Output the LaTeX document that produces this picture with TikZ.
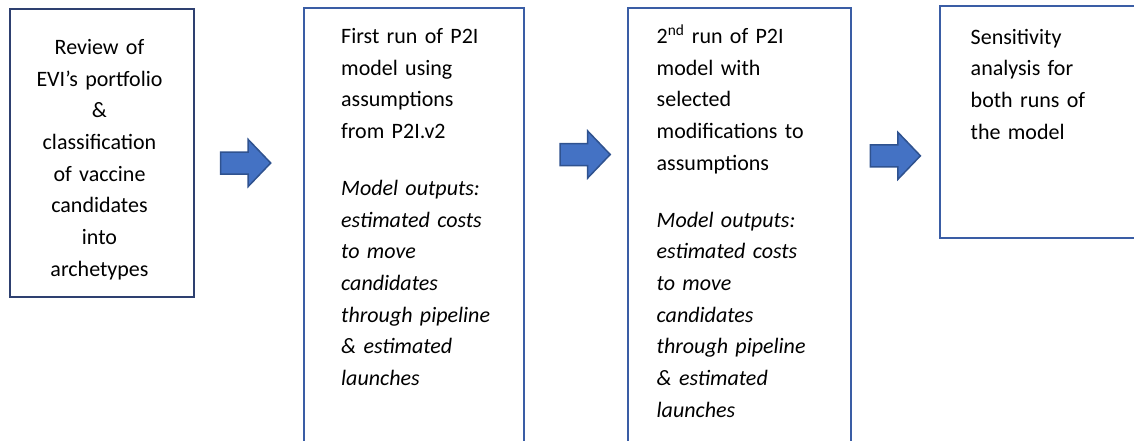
\documentclass[tikz,border=0pt]{standalone}
\usepackage{fontspec}
\setmainfont{Carlito}
\usetikzlibrary{positioning}
\definecolor{boxline}{HTML}{3A5DA5}
\definecolor{boxdark}{HTML}{2E4070}
\definecolor{arrowfill}{HTML}{4472C4}
\definecolor{arrowline}{HTML}{2F528F}
\tikzset{
  stage/.style={draw=boxline, line width=2pt, inner sep=0pt, outer sep=0pt, anchor=north west},
  stagetext/.style={inner sep=0pt, text width=185pt, align=left,
    font=\fontsize{22}{31.7}\selectfont},
  flowarrow/.style={fill=arrowfill, draw=arrowline, line width=1.5pt, line join=miter}
}

\begin{document}
\begin{tikzpicture}[x=1pt,y=-1pt]
    \useasboundingbox (0,0) rectangle (1134,440);

    % boxes
    \node[stage, draw=boxdark, minimum width=184pt, minimum height=288pt] (review) at (10,9) {};
    \node[stage, minimum width=220pt, minimum height=460pt] (run1) at (304,8) {};
    \node[stage, minimum width=223pt, minimum height=460pt] (run2) at (628,7.5) {};
    \node[stage, minimum width=210pt, minimum height=232pt] (sens) at (940,6) {};

    % texts
    \node[stagetext, align=center, anchor=base] (reviewtxt) at (99.5,54.3)
        {Review of\\EVI’s portfolio\\\&\\classification\\of vaccine\\candidates\\into\\archetypes};
    \node[stagetext, anchor=base west] (run1txt) at (341,43.3)
        {First run of P2I\\model using\\assumptions\\from P2I.v2\\[25.3pt]
         \itshape Model outputs:\\estimated costs\\to move\\candidates\\through pipeline\\\& estimated\\launches};
    \node[stagetext, anchor=base west] (run2txt) at (656.5,43.3)
        {2\textsuperscript{nd} run of P2I\\model with\\selected\\modifications to\\assumptions\\[25.3pt]
         \itshape Model outputs:\\estimated costs\\to move\\candidates\\through pipeline\\\& estimated\\launches};
    \node[stagetext, anchor=base west] (senstxt) at (970.5,44)
        {Sensitivity\\analysis for\\both runs of\\the model};

    % block arrows
    \coordinate (a1) at (245.7,163);
    \coordinate (a2) at (585.2,154.5);
    \coordinate (a3) at (895.4,155.8);
    \foreach \a in {a1,a2,a3}
        \draw[flowarrow, shift={(\a)}] (-25,-11) -- (2.5,-11) -- (2.5,-23.5) -- (25,0)
            -- (2.5,23.5) -- (2.5,11) -- (-25,11) -- cycle;
\end{tikzpicture}
\end{document}
